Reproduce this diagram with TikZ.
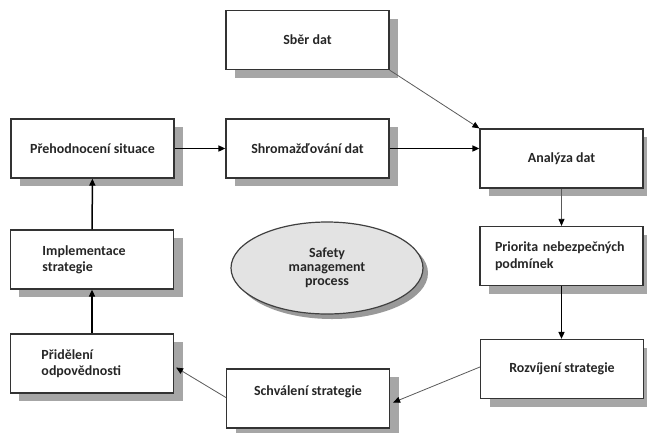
\documentclass[tikz,border=0pt]{standalone}
\usepackage{fontspec}
\setmainfont{Carlito}
\usetikzlibrary{shapes.geometric,shadows,arrows.meta}

\begin{document}
\begin{tikzpicture}[
        x=1bp, y=-1bp,
        every node/.style={font=\fontsize{14}{16.5}\selectfont\bfseries, text=black!85},
        blok/.style={draw=black!80, fill=white, line width=1.2bp, minimum width=163bp, minimum height=59bp, inner sep=0pt,
            drop shadow={shadow xshift=9bp, shadow yshift=-8bp, fill=black!35, opacity=1}},
        blokL/.style={blok, align=left, text width=133bp, inner xsep=15bp},
        proces/.style={ellipse, draw=black!75, fill=black!11, line width=1.2bp, minimum width=192bp, minimum height=92bp,
            align=center, font=\fontsize{14}{14}\selectfont\bfseries,
            drop shadow={shadow xshift=5bp, shadow yshift=-5bp, fill=black!40, opacity=1}},
        sipka/.style={draw=black, line width=1.5bp, -{Triangle[length=7bp,width=6bp]}},
        tenka/.style={draw=black!65, line width=0.8bp, -{Triangle[length=7bp,width=6bp,fill=black,color=black]}}
        ]
    \useasboundingbox (0,0) rectangle (647,432);
    \node[blok] (sber) at (307.5,40) {Sběr dat};
    \node[blok] (preh) at (92.5,148.5) {Přehodnocení situace};
    \node[blok] (shrom) at (307.5,148.5) {Shromažďování dat};
    \node[blok] (analyza) at (561.5,158.5) {Analýza dat};
    \node[blokL] (priorita) at (561.5,256) {Priorita nebezpečných\\podmínek};
    \node[blok] (rozv) at (562,369) {Rozvíjení strategie};
    \node[blok, text depth=16bp] (schval) at (308,398.5) {Schválení strategie};
    \node[blokL, inner xsep=32bp, text width=99bp] (impl) at (92,259.5) {Implementace\\strategie};
    \node[blokL, inner xsep=31bp, text width=101bp] (prid) at (92,363.5) {Přidělení\\odpovědnosti};
    \node[proces] (smp) at (327,268) {Safety\\management\\process};

    \draw[tenka] (sber.south east) -- (analyza.north west);
    \draw[sipka] (preh) -- (shrom);
    \draw[sipka] (shrom.east) -- (shrom.east -| analyza.west);
    \draw[tenka] (analyza) -- (priorita);
    \draw[sipka] (priorita.south) -- (priorita.south |- rozv.north);
    \draw[tenka] ([yshift=2bp]rozv.west) -- ([xshift=3bp,yshift=-4bp]schval.east);
    \draw[tenka] ([yshift=1bp]schval.west) -- ([xshift=2bp,yshift=-4bp]prid.east);
    \draw[sipka] (prid) -- (impl);
    \draw[sipka] (impl) -- (preh);
\end{tikzpicture}
\end{document}
